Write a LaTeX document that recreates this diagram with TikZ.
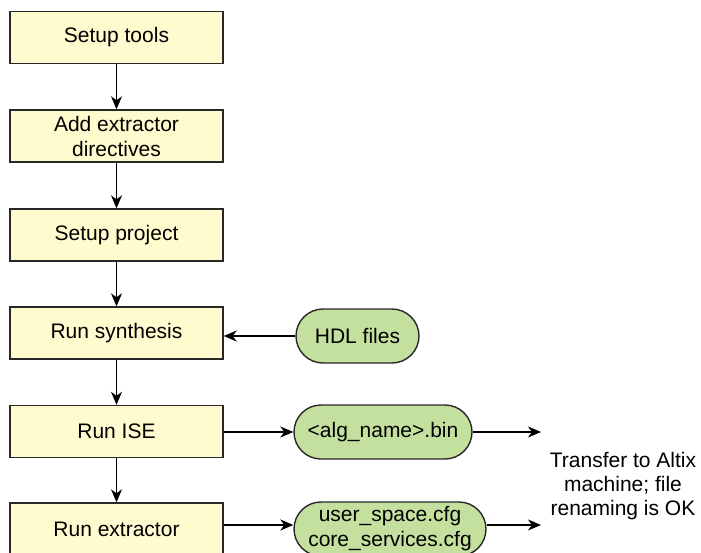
\documentclass[tikz,border=0pt]{standalone}
\usepackage{fontspec}
\setmainfont{Liberation Sans}
\usetikzlibrary{arrows.meta,shapes.misc}
\definecolor{boxyellow}{RGB}{255,251,206}
\definecolor{pillgreen}{RGB}{196,224,158}
\definecolor{edgegray}{RGB}{40,40,40}
\begin{document}
\begin{tikzpicture}[x=1pt,y=-1pt,
  font=\fontsize{21}{25}\selectfont,
  stepbox/.style={draw=edgegray,line width=1.4pt,fill=boxyellow,minimum width=213pt,minimum height=52pt,inner sep=0pt,align=center},
  pill/.style={draw=edgegray,line width=1.4pt,fill=pillgreen,rounded rectangle,minimum height=54pt,inner sep=0pt,align=center},
  arr/.style={line width=1.5pt,draw=black,-{Stealth[length=13pt,width=11pt,inset=4pt]}}]
\useasboundingbox (0,0) rectangle (701,552);
\clip (0,0) rectangle (701,552);
\node[stepbox] (s1) at (116.5,37.5) {Setup tools};
\node[stepbox] (s2) at (116.5,136) {Add extractor\\directives};
\node[stepbox] (s3) at (116.5,235) {Setup project};
\node[stepbox] (s4) at (116.5,333) {Run synthesis};
\node[stepbox] (s5) at (116.5,431.5) {Run ISE};
\node[stepbox] (s6) at (116.5,529) {Run extractor};
\node[pill,minimum width=123pt] (hdl) at (357.5,336) {HDL files};
\node[pill,minimum width=178pt] (bin) at (383,432) {<alg\_name>.bin};
\node[pill,minimum width=192pt] (cfg) at (390,529) {user\_space.cfg\\core\_services.cfg};
\node[align=center,font=\fontsize{21}{24}\selectfont] (txt) at (623,486) {Transfer to Altix\\machine; file\\renaming is OK};
\coordinate (e1) at (541,432);
\coordinate (e2) at (541,525);
\draw[arr] (s1) -- (s2);
\draw[arr] (s2) -- (s3);
\draw[arr] (s3) -- (s4);
\draw[arr] (s4) -- (s5);
\draw[arr] (s5) -- (s6);
\draw[arr] (hdl.west) -- (hdl.west -| s4.east);
\draw[arr] (s5.east |- bin.west) -- (bin.west);
\draw[arr] (bin.east) -- (e1);
\draw[arr] (cfg.east |- e2) -- (e2);
\draw[arr] (s6.east |- e2) -- (cfg.west |- e2);
\end{tikzpicture}
\end{document}
